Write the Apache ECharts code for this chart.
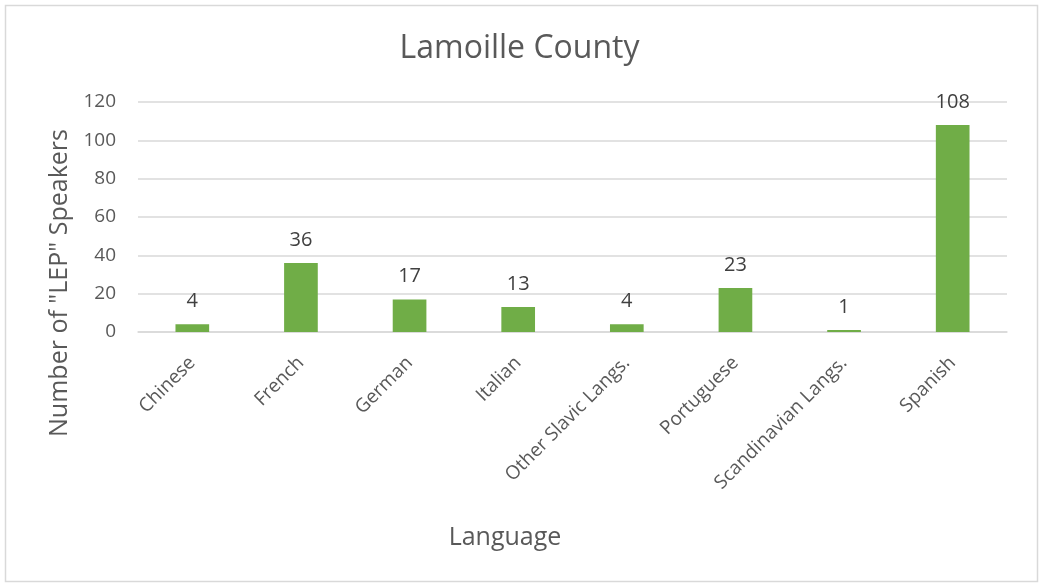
<!DOCTYPE html>
<html>
<head>
<meta charset="utf-8">
<script src="https://cdn.jsdelivr.net/npm/echarts@6/dist/echarts.min.js"></script>
<style>
  html, body { margin: 0; padding: 0; background: #fff; }
  #chart { width: 1039px; height: 583px; }
</style>
</head>
<body>
<div id="chart"></div>
<script>
// Limited English Proficiency speakers by language, Lamoille County
const categories = ['Chinese', 'French', 'German', 'Italian', 'Other Slavic Langs.', 'Portuguese', 'Scandinavian Langs.', 'Spanish'];
const speakers = [4, 36, 17, 13, 4, 23, 1, 108];
const yTicks = { min: 0, max: 120, interval: 20 };

const FONT = '"Open Sans", "Noto Sans", sans-serif';
const chart = echarts.init(document.getElementById('chart'), null, { renderer: 'canvas' });

chart.setOption({
  backgroundColor: '#ffffff',
  animation: false,
  title: {
    text: 'Lamoille County',
    left: 'center',
    top: 28,
    textStyle: { fontFamily: FONT, fontSize: 32, fontWeight: 'normal', color: '#595959' }
  },
  grid: { left: 138, right: 32, top: 102, bottom: 251, containLabel: false },
  xAxis: {
    type: 'category',
    data: categories,
    axisLine: { show: true, lineStyle: { color: '#d9d9d9', width: 1.5 } },
    axisTick: { show: false },
    axisLabel: {
      rotate: 45,
      interval: 0,
      margin: 28,
      fontFamily: FONT,
      fontSize: 19,
      color: '#595959'
    }
  },
  yAxis: {
    type: 'value',
    min: yTicks.min,
    max: yTicks.max,
    interval: yTicks.interval,
    axisLine: { show: false },
    axisTick: { show: false },
    splitLine: { lineStyle: { color: '#d9d9d9', width: 1.5 } },
    axisLabel: { fontFamily: FONT, fontSize: 19, color: '#595959', margin: 22 }
  },
  series: [{
    type: 'bar',
    data: speakers,
    barWidth: '31%',
    itemStyle: { color: '#70ad47' },
    label: {
      show: true,
      position: 'top',
      distance: 13,
      fontFamily: FONT,
      fontSize: 20,
      color: '#404040'
    }
  }],
  graphic: [
    {
      type: 'rect',
      left: 3, top: 3,
      shape: { width: 1032, height: 576 },
      style: { fill: 'none', stroke: '#d9d9d9', lineWidth: 1.5 },
      silent: true
    },
    {
      type: 'text',
      x: 60, y: 283,
      rotation: Math.PI / 2,
      style: {
        text: 'Number of "LEP" Speakers',
        font: '25px ' + FONT,
        fill: '#595959',
        align: 'center',
        verticalAlign: 'middle'
      }
    },
    {
      type: 'text',
      x: 505, y: 538,
      style: {
        text: 'Language',
        font: '25px ' + FONT,
        fill: '#595959',
        align: 'center',
        verticalAlign: 'middle'
      }
    }
  ]
});
</script>
</body>
</html>
